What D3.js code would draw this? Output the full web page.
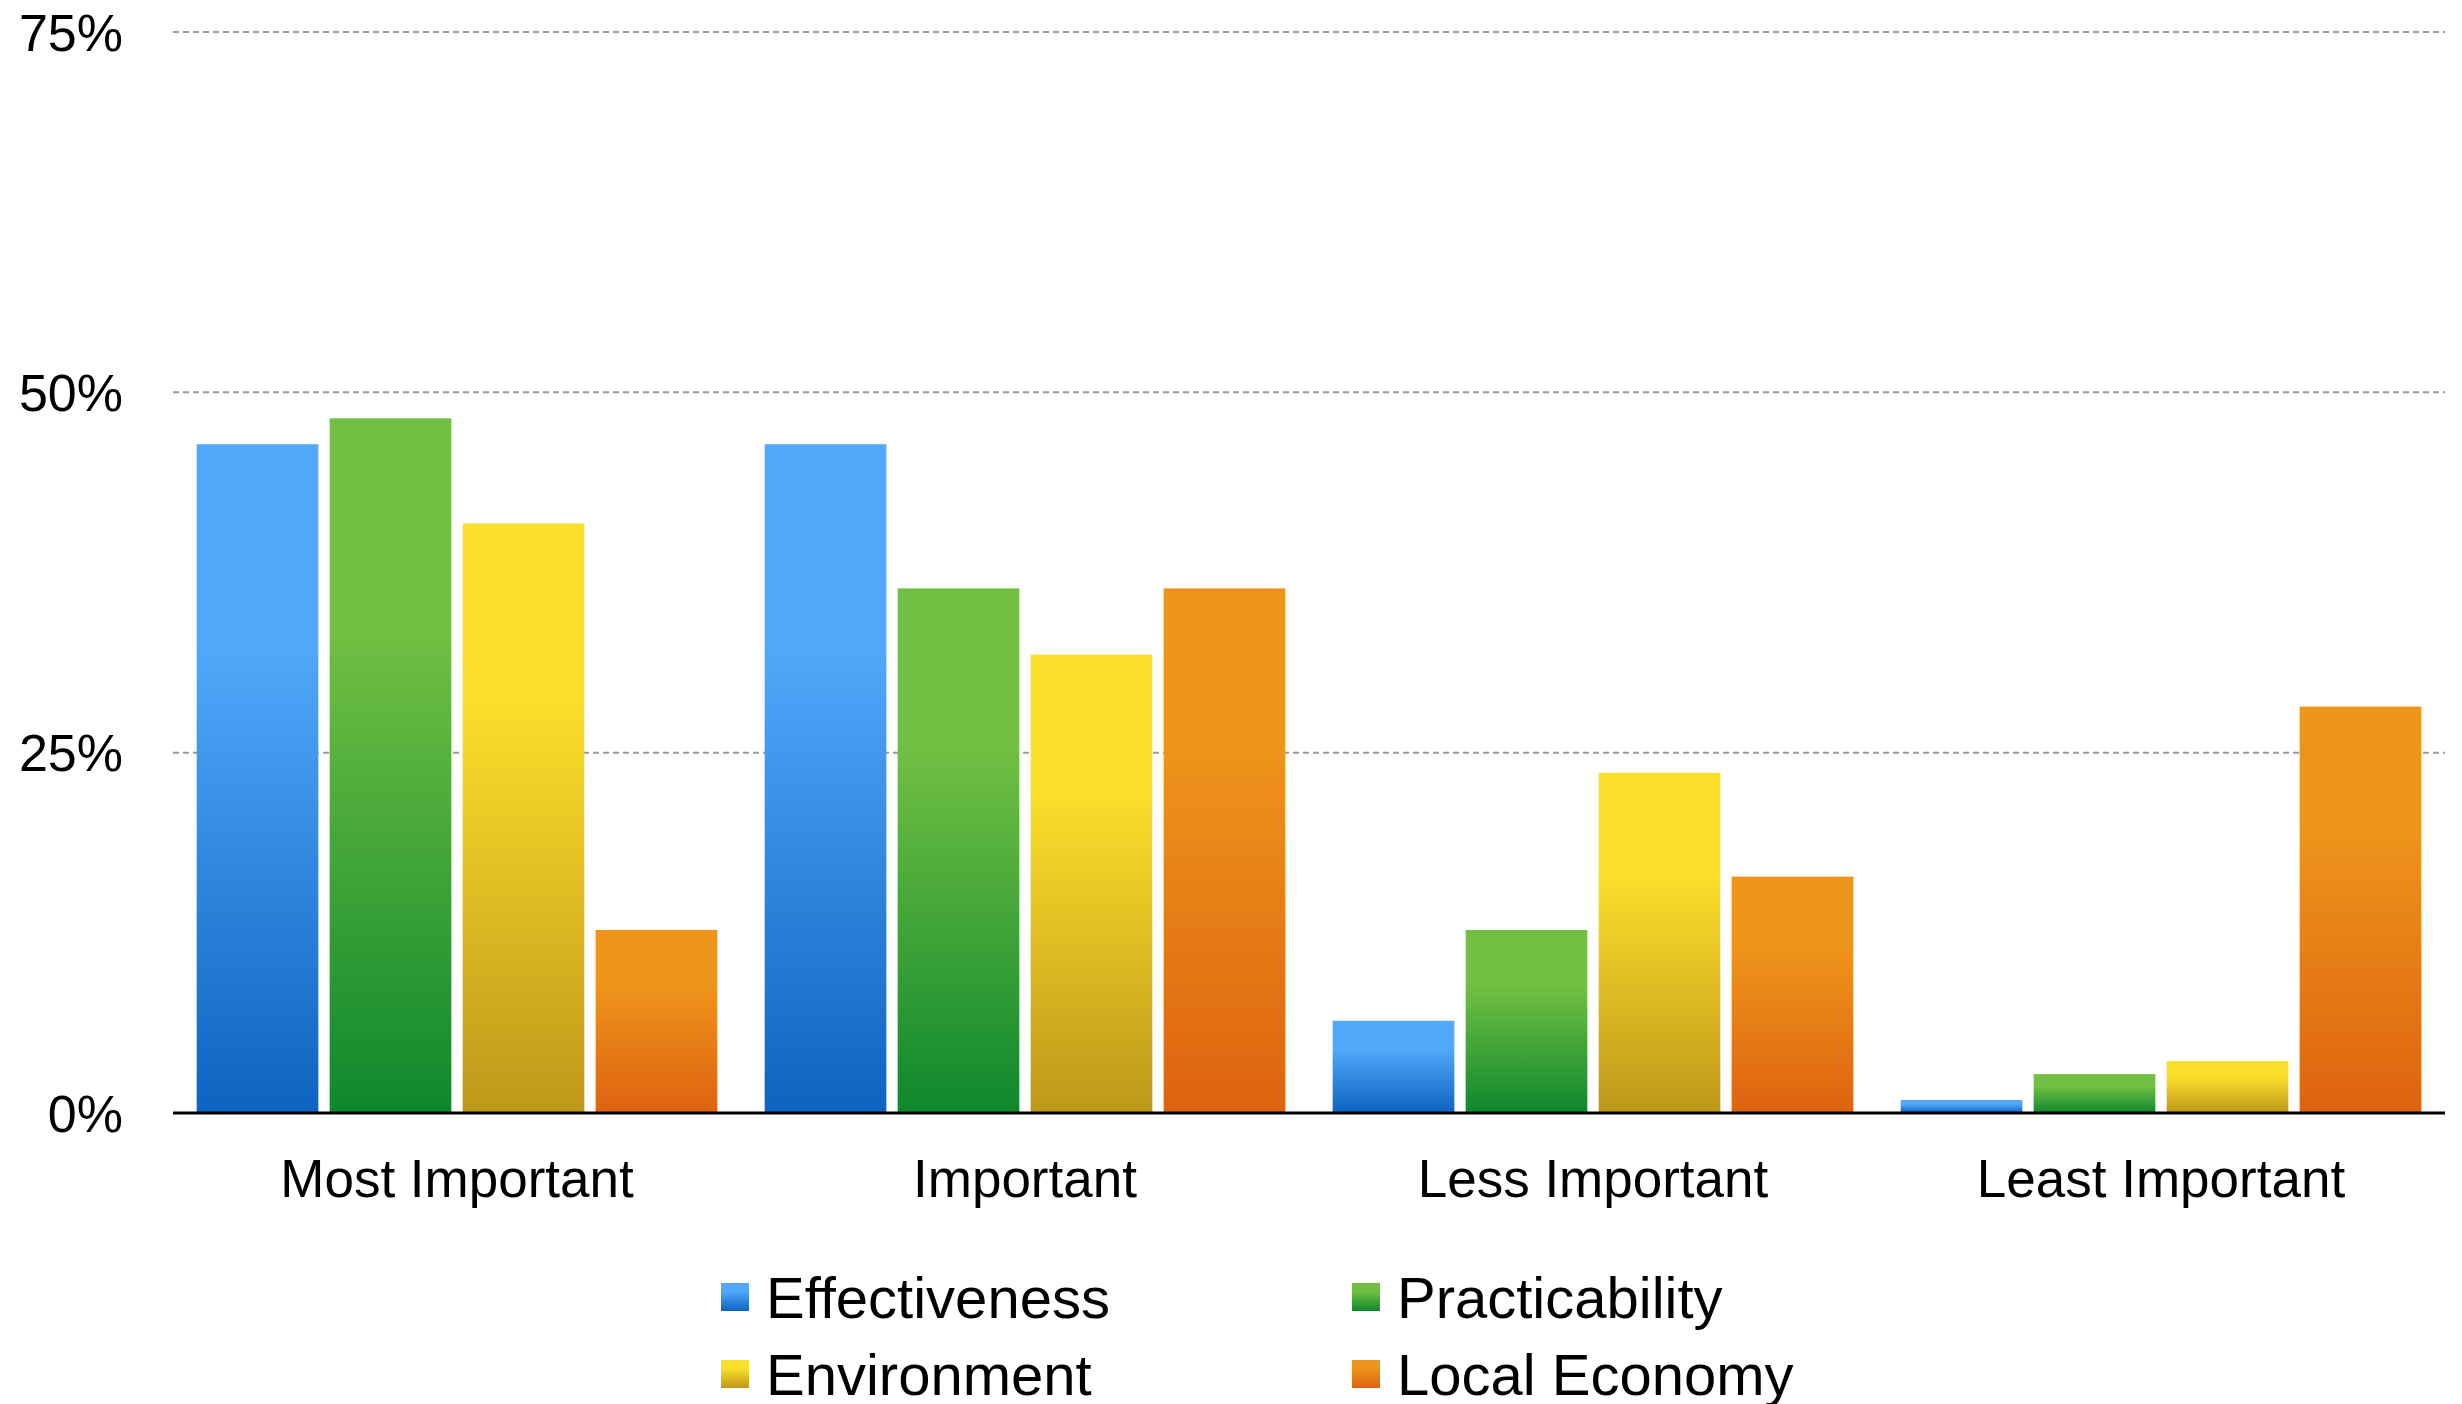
<!DOCTYPE html>
<html>
<head>
<meta charset="utf-8">
<script src="https://cdn.jsdelivr.net/npm/d3@7"></script>
<style>
  html, body { margin: 0; padding: 0; background: #fff; }
  svg { display: block; }
  text { font-family: "Liberation Sans", Arial, sans-serif; fill: #000; }
</style>
</head>
<body>
<svg id="chart" width="2462" height="1404"></svg>
<script>
const categories = ["Most Important", "Important", "Less Important", "Least Important"];
const seriesNames = ["Effectiveness", "Practicability", "Environment", "Local Economy"];
const effectiveness = [46.4, 46.4, 6.4, 0.9];
const practicability = [48.2, 36.4, 12.7, 2.7];
const environment = [40.9, 31.8, 23.6, 3.6];
const localEconomy = [12.7, 36.4, 16.4, 28.2];
const yTicks = [0, 25, 50, 75];
const tickLabels = ["0%", "25%", "50%", "75%"];

const seriesValues = [effectiveness, practicability, environment, localEconomy];
const colorsTop = ["#52A8FA", "#72C043", "#FADF2B", "#EE941B"];
const colorsBottom = ["#0D63C1", "#0E882D", "#BE981A", "#DE6310"];

const W = 2462, H = 1404;
const margin = { left: 173, right: 17, top: 32, bottom: 1404 - 1113 };
const svg = d3.select("#chart");

const defs = svg.append("defs");
seriesNames.forEach((s, i) => {
  const g = defs.append("linearGradient")
    .attr("id", "grad" + i)
    .attr("x1", 0).attr("y1", 0).attr("x2", 0).attr("y2", 1);
  g.append("stop").attr("offset", "0").attr("stop-color", colorsTop[i]);
  g.append("stop").attr("offset", "0.3").attr("stop-color", colorsTop[i]);
  g.append("stop").attr("offset", "1").attr("stop-color", colorsBottom[i]);
});

const x0 = d3.scaleBand()
  .domain(categories)
  .range([margin.left, W - margin.right])
  .paddingInner(0).paddingOuter(0);

const x1 = d3.scaleBand()
  .domain(seriesNames)
  .range([0, x0.bandwidth()])
  .paddingInner(0.085).paddingOuter(0.178);

const y = d3.scaleLinear().domain([0, 75]).range([1113, 32]);

// gridlines
svg.append("g").selectAll("line")
  .data(yTicks.filter(t => t > 0))
  .join("line")
  .attr("x1", margin.left).attr("x2", W - margin.right)
  .attr("y1", d => y(d)).attr("y2", d => y(d))
  .attr("stroke", "#9a9a9a").attr("stroke-width", 2)
  .attr("stroke-dasharray", "6,4");

// y tick labels
svg.append("g").selectAll("text")
  .data(yTicks)
  .join("text")
  .attr("x", 123)
  .attr("y", d => y(d))
  .attr("dy", "0.36em")
  .attr("text-anchor", "end")
  .attr("font-size", 52)
  .text((d, i) => tickLabels[i]);

// bars
const groups = svg.append("g").selectAll("g")
  .data(categories)
  .join("g")
  .attr("transform", d => `translate(${x0(d)},0)`);

groups.selectAll("rect")
  .data((c, ci) => seriesNames.map((s, si) => ({ s, si, v: seriesValues[si][ci] })))
  .join("rect")
  .attr("x", d => x1(d.s))
  .attr("width", x1.bandwidth())
  .attr("y", d => y(d.v))
  .attr("height", d => y(0) - y(d.v))
  .attr("fill", d => `url(#grad${d.si})`);

// x axis line
svg.append("line")
  .attr("x1", margin.left).attr("x2", W - margin.right)
  .attr("y1", y(0)).attr("y2", y(0))
  .attr("stroke", "#000").attr("stroke-width", 3);

// category labels
svg.append("g").selectAll("text")
  .data(categories)
  .join("text")
  .attr("x", d => x0(d) + x0.bandwidth() / 2)
  .attr("y", 1197)
  .attr("text-anchor", "middle")
  .attr("font-size", 53)
  .text(d => d);

// legend
const legendPos = [
  { x: 721, y: 1297 }, { x: 1352, y: 1297 },
  { x: 721, y: 1374 }, { x: 1352, y: 1374 }
];
const leg = svg.append("g").selectAll("g")
  .data(seriesNames)
  .join("g")
  .attr("transform", (d, i) => `translate(${legendPos[i].x},${legendPos[i].y})`);
leg.append("rect")
  .attr("x", 0).attr("y", -14).attr("width", 28).attr("height", 28)
  .attr("fill", (d, i) => `url(#grad${i})`);
leg.append("text")
  .attr("x", 45).attr("y", 0).attr("dy", "0.36em")
  .attr("font-size", 58)
  .text(d => d);
</script>
</body>
</html>
